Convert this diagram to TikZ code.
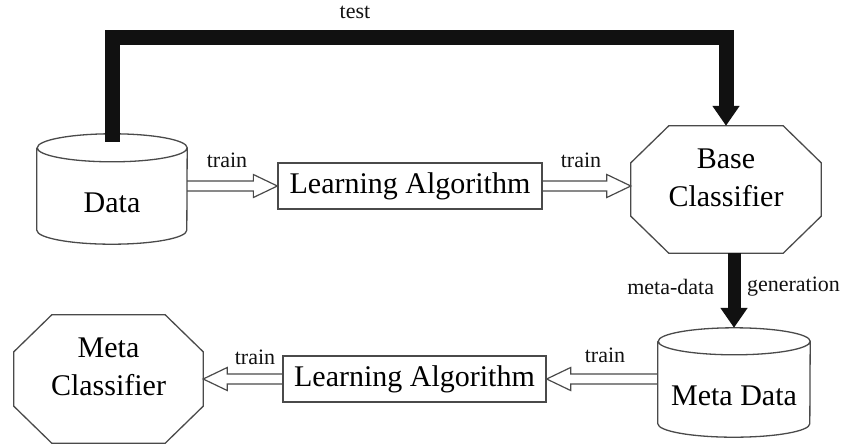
\documentclass[tikz,border=0pt]{standalone}
\usepackage{fontspec}
\setmainfont{Liberation Serif}
\usetikzlibrary{calc,arrows.meta,positioning}
\definecolor{edge}{HTML}{4A4A4A}
\definecolor{ink}{HTML}{111111}
\def\blockfont{\fontsize{30}{38}\selectfont}
\def\tagfont{\fontsize{22}{26}\selectfont}
% tank outline round a node: (node)(x radius)(y radius)
\def\tankframe(#1)(#2)(#3){\draw[frame] ([yshift=#3]#1.north west) -- ([yshift=#3]#1.south west) arc (180:360:#2 and #3) -- ([yshift=#3]#1.north east) arc (0:360:#2 and #3);}
% octagon outline round a node: (node)(x cut)(y cut)
\def\octframe(#1)(#2)(#3){\draw[frame] ([xshift=#2]#1.north west) -- ([xshift=-#2]#1.north east) -- ([yshift=-#3]#1.north east) -- ([yshift=#3]#1.south east) -- ([xshift=-#2]#1.south east) -- ([xshift=#2]#1.south west) -- ([yshift=#3]#1.south west) -- ([yshift=-#3]#1.north west) -- cycle;}
% hollow block arrow, horizontal only
\def\hollowarrow(#1)(#2){\draw[hollow] let \p1=(#1), \p2=(#2), \n1={(\x2>\x1)*2-1} in (\x1,{\y1+5pt}) -- ({\x2-(\n1)*24pt},{\y1+5pt}) -- ({\x2-(\n1)*24pt},{\y1+11.5pt}) -- (\x2,\y1) -- ({\x2-(\n1)*24pt},{\y1-11.5pt}) -- ({\x2-(\n1)*24pt},{\y1-5pt}) -- (\x1,{\y1-5pt});}
\tikzset{
  frame/.style={draw=edge, line width=1.3pt},
  hollow/.style={draw=edge, line width=1.2pt, line join=miter},
  box/.style={draw=edge, line width=1.3pt, inner sep=0pt, minimum height=46pt, font=\blockfont},
  shell/.style={inner sep=0pt, font=\blockfont},
  lbl/.style={font=\tagfont, text=ink, inner sep=0pt, outer sep=0pt},
  fat/.style={draw=ink, line width=15pt, line join=miter, -{Triangle[width=26pt,length=20pt]}},
}

\begin{document}
\begin{tikzpicture}[x=1pt,y=-1pt]
		%%%%% START %%%%%
		\useasboundingbox (0,0) rectangle (845,445);
		
		% top row
		\node[shell, minimum width=150pt, minimum height=82pt] (data) at (112,203) {Data};
		\tankframe(data)(75pt)(14pt)
		\node[box, minimum width=264pt] (la1) at (410,186) {Learning Algorithm};
		\node[shell, minimum width=190pt, minimum height=127pt] (bc) at (726,189.5) {};
		\octframe(bc)(38pt)(37pt)
		\node[shell, align=center] (bcName) at ([yshift=12pt]bc.center) {Base\\Classifier};
		
		% bottom row
		\node[shell, minimum width=152pt, minimum height=82pt] (md) at (734,396) {Meta Data};
		\tankframe(md)(76pt)(13.5pt)
		\node[box, minimum width=263pt] (la2) at (414.5,379) {Learning Algorithm};
		\node[shell, minimum width=189pt, minimum height=128pt] (mc) at (108.5,379) {};
		\octframe(mc)(38pt)(37pt)
		\node[shell, align=center] (mcName) at ([yshift=12pt]mc.center) {Meta\\Classifier};
		
		% test path
		\coordinate (rail) at (0,37);
		\draw[fat] ([yshift=20pt]data.north) -- (data.north |- rail) -| (bc.north);
		\node[lbl] (testTag) at (355,12) {test};
		
		% training arrows
		\hollowarrow(data.east |- la1.west)(la1.west)
		\hollowarrow(la1.east)(bc.west |- la1.east)
		\hollowarrow(md.west |- la2.east)(la2.east)
		\hollowarrow(la2.west)(mc.east |- la2.west)
		\node[lbl] (trainA) at (227,160) {train};
		\node[lbl] (trainB) at (581,160) {train};
		\node[lbl] (trainC) at (605,355) {train};
		\node[lbl] (trainD) at (255,357) {train};
		
		% meta-data generation
		\draw[fat, line width=13pt] (bc.south -| md.north) -- node[lbl, pos=.45, left=20pt] (metaTag) {meta-data} node[lbl, pos=.45, right=13pt] (genTag) {generation} ([yshift=27pt]md.north);
		
		%%%%% END %%%%%
	\end{tikzpicture}
\end{document}
